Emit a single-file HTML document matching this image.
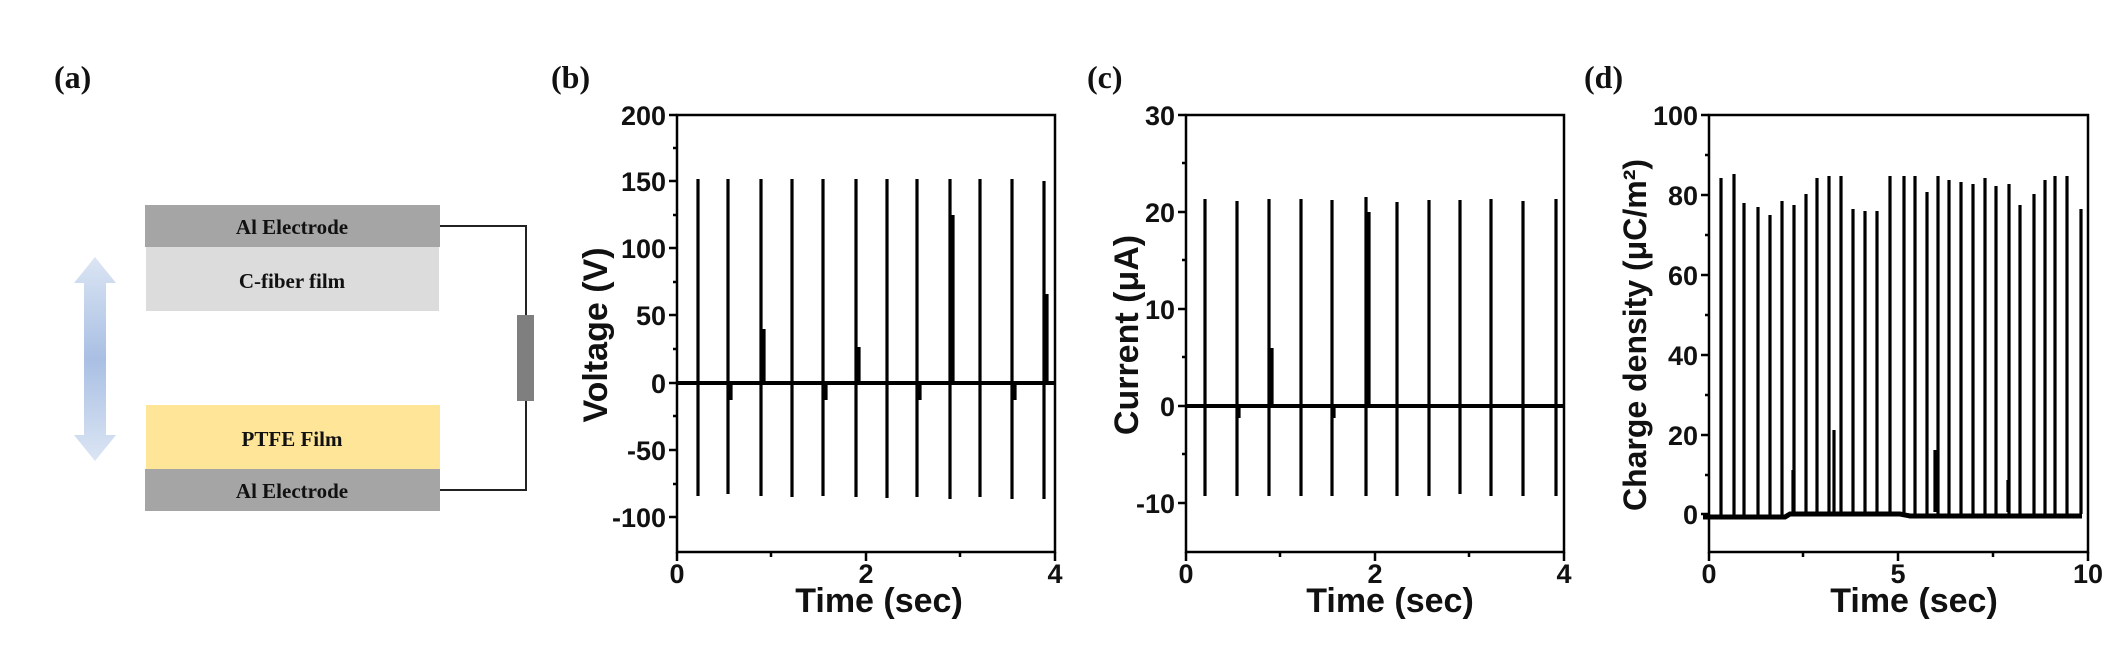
<!DOCTYPE html>
<html><head><meta charset="utf-8"><style>
html,body{margin:0;padding:0;background:#fff;}
svg{display:block;}
.t{font-family:"Liberation Sans",Arial,sans-serif;font-weight:bold;fill:#111;}
.s{font-family:"Liberation Serif",serif;font-weight:bold;fill:#111;}
</style></head><body>
<svg width="2119" height="649" viewBox="0 0 2119 649" xmlns="http://www.w3.org/2000/svg">
<defs>
<linearGradient id="ag" x1="0" y1="0" x2="0" y2="1">
<stop offset="0" stop-color="#dbe5f4"/><stop offset="0.5" stop-color="#a9bfe3"/><stop offset="1" stop-color="#dbe5f4"/>
</linearGradient>
</defs>
<text class="s" x="54" y="88" font-size="32">(a)</text>
<text class="s" x="551" y="88" font-size="32">(b)</text>
<text class="s" x="1087" y="88" font-size="32">(c)</text>
<text class="s" x="1584" y="88" font-size="32">(d)</text>

<rect x="145" y="205" width="295" height="42" fill="#a5a5a5"/>
<rect x="146" y="247" width="293" height="64" fill="#dcdcdc"/>
<rect x="146" y="405" width="294" height="64" fill="#fee598"/>
<rect x="145" y="469" width="295" height="42" fill="#a5a5a5"/>
<text class="s" x="292" y="234" font-size="21" text-anchor="middle">Al Electrode</text>
<text class="s" x="292" y="288" font-size="21" text-anchor="middle">C-fiber film</text>
<text class="s" x="292" y="446" font-size="21" text-anchor="middle">PTFE Film</text>
<text class="s" x="292" y="498" font-size="21" text-anchor="middle">Al Electrode</text>
<polyline points="440,226 526,226 526,490 440,490" fill="none" stroke="#222" stroke-width="2"/>
<rect x="517" y="315" width="17" height="86" fill="#7f7f7f"/>
<path d="M95,257 L116,283 L106,283 L106,435 L116,435 L95,461 L74,435 L84,435 L84,283 L74,283 Z" fill="url(#ag)"/>

<g stroke="#000" fill="none">
<rect x="677" y="115" width="378" height="437" stroke-width="2.5"/>
<path stroke-width="2.5" d="M669,115H677M669,181H677M669,248H677M669,315H677M669,383H677M669,450H677M669,517H677
M673,148H677M673,215H677M673,282H677M673,349H677M673,416H677M673,484H677
M677,552V561M866,552V561M1055,552V561M771,552V557M960,552V557"/>
<path stroke-width="4" d="M677,383H1055"/>
<path stroke-width="3.2" d="M698,383V179V496M728,383V179V494M761,383V179V496M792,383V179V497M823,383V179V496M856,383V179V497M887,383V179V498M917,383V179V497M950,383V179V499M980,383V179V497M1012,383V179V499M1044,383V181V499
M764,383V329M859,383V347M953,383V215M1047,383V294M731,383V400M826,383V400M920,383V400M1015,383V400"/>

<rect x="1186" y="115" width="378" height="437" stroke-width="2.5"/>
<path stroke-width="2.5" d="M1178,115H1186M1178,212H1186M1178,309H1186M1178,406H1186M1178,503H1186
M1182,163H1186M1182,260H1186M1182,357H1186M1182,454H1186
M1186,552V561M1375,552V561M1564,552V561M1280,552V557M1469,552V557"/>
<path stroke-width="4" d="M1186,406H1564"/>
<path stroke-width="3.2" d="M1205,406V199V496M1237,406V201V496M1269,406V199V496M1301,406V199V496M1332,406V200V496M1366,406V197V496M1397,406V202V496M1429,406V200V496M1460,406V200V494M1491,406V199V496M1523,406V201V496M1556,406V199V496
M1272,406V348M1369,406V212M1239,406V418M1334,406V418M1556,406V420"/>

<rect x="1709" y="115" width="379" height="437" stroke-width="2.5"/>
<path stroke-width="2.5" d="M1701,115H1709M1701,195H1709M1701,275H1709M1701,355H1709M1701,435H1709M1701,514H1709
M1705,155H1709M1705,235H1709M1705,315H1709M1705,395H1709M1705,475H1709
M1709,552V561M1898,552V561M2088,552V561M1803,552V557M1993,552V557"/>
<path stroke-width="5" d="M1703,517H1785L1790,514H1900L1910,516H2082"/>
<path stroke-width="3.2" d="M1721,516V178M1734,516V174M1744,516V203M1758,516V207M1770,516V215M1782,516V201M1794,514V205M1806,512V194M1817,512V178M1829,512V176M1841,512V176M1853,512V209M1865,512V211M1877,512V211M1890,512V176M1904,514V176M1915,514V176M1927,514V192M1938,514V176M1949,514V180M1961,514V182M1973,514V184M1985,514V178M1996,514V186M2009,514V184M2020,514V205M2034,514V194M2045,514V180M2055,514V176M2067,514V176M2081,514V209
M1834,512V430M1935,512V450M1793,512V470M2008,512V480"/>
</g>

<g class="t" font-size="27" text-anchor="end">
<text x="666" y="125">200</text><text x="666" y="191">150</text><text x="666" y="258">100</text>
<text x="666" y="325">50</text><text x="666" y="393">0</text><text x="666" y="460">-50</text><text x="666" y="527">-100</text>
<text x="1175" y="125">30</text><text x="1175" y="222">20</text><text x="1175" y="319">10</text>
<text x="1175" y="416">0</text><text x="1175" y="513">-10</text>
<text x="1698" y="125">100</text><text x="1698" y="205">80</text><text x="1698" y="285">60</text>
<text x="1698" y="365">40</text><text x="1698" y="445">20</text><text x="1698" y="524">0</text>
</g>
<g class="t" font-size="27" text-anchor="middle">
<text x="677" y="583">0</text><text x="866" y="583">2</text><text x="1055" y="583">4</text>
<text x="1186" y="583">0</text><text x="1375" y="583">2</text><text x="1564" y="583">4</text>
<text x="1709" y="583">0</text><text x="1898" y="583">5</text><text x="2088" y="583">10</text>
</g>
<g class="t" font-size="34" text-anchor="middle">
<text x="879" y="612">Time (sec)</text>
<text x="1390" y="612">Time (sec)</text>
<text x="1914" y="612">Time (sec)</text>
<text transform="translate(607,335) rotate(-90)">Voltage (V)</text>
<text transform="translate(1138,335) rotate(-90)">Current (μA)</text>
<text transform="translate(1646,335) rotate(-90)" font-size="32">Charge density (μC/m²)</text>
</g>
</svg>
</body></html>
